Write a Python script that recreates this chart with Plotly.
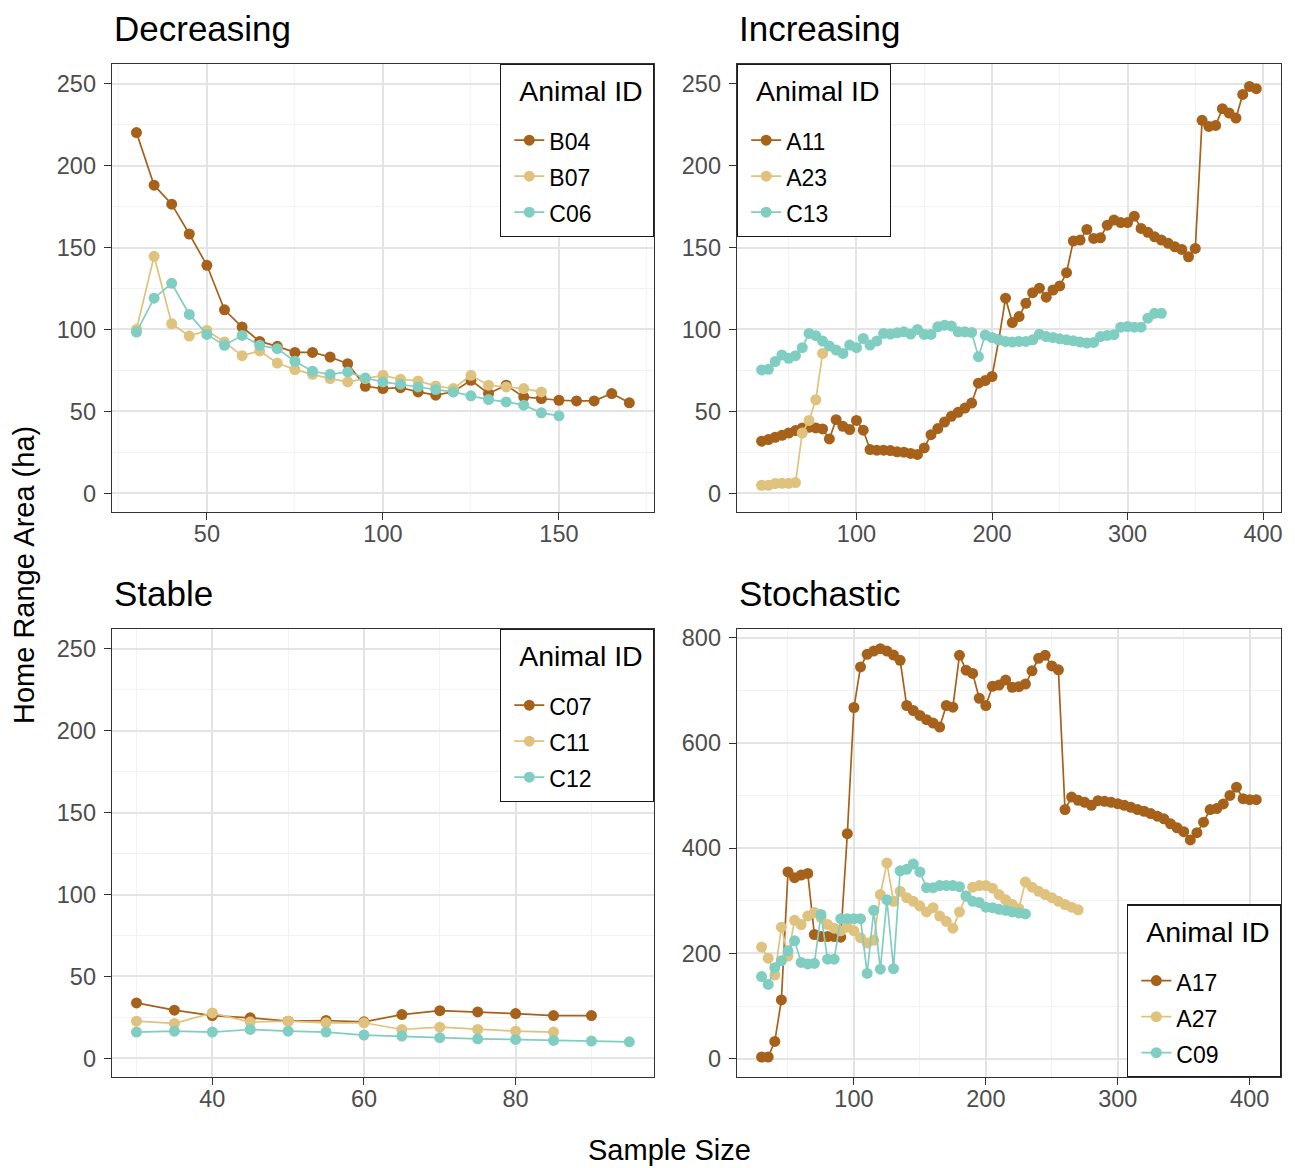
import plotly.graph_objects as go

# ---------------- data ----------------
# Decreasing
b04_n = list(range(30, 175, 5))
b04_area = [220.2, 188.1, 176.5, 158.3, 139.2, 112.0, 101.5, 92.7, 89.7, 86.0, 86.0, 83.2, 79.1, 65.3,
            63.9, 64.5, 61.9, 59.9, 62.0, 69.0, 60.9, 66.0, 58.8, 57.8, 56.8, 56.4, 56.4, 60.9, 55.2]
b07_n = list(range(30, 150, 5))
b07_area = [100.0, 144.7, 103.5, 96.0, 99.4, 92.3, 84.0, 86.9, 79.5, 75.5, 72.6, 70.0, 68.0, 70.0,
            72.0, 69.6, 68.6, 65.5, 63.9, 72.0, 66.0, 64.9, 63.9, 61.9]
c06_n = list(range(30, 155, 5))
c06_area = [98.4, 119.1, 128.2, 109.2, 97.0, 90.3, 96.4, 90.3, 88.3, 80.6, 74.5, 72.6, 74.1, 70.4,
            68.0, 66.6, 64.9, 63.3, 61.9, 59.5, 57.2, 55.8, 53.8, 49.1, 47.3]

# Increasing
a11_n = list(range(30, 400, 5))
a11_area = [31.8, 32.8, 34.2, 35.4, 36.8, 38.3, 39.9, 40.3, 39.9, 39.3, 33.2, 44.9, 40.9, 38.9, 44.5,
            38.5, 26.7, 26.3, 26.3, 26.1, 25.3, 25.1, 24.3, 23.7, 27.7, 35.8, 39.5, 43.5, 47.0, 49.4,
            52.0, 55.1, 67.2, 68.8, 71.3,
            93.7, 119.1, 104.2, 107.9, 116.0, 122.5, 125.2, 119.7, 124.1, 126.6, 134.7, 154.0, 154.6,
            161.1, 155.6, 156.0, 163.7, 166.8, 165.3, 165.3, 169.2, 161.7, 159.3, 156.6, 154.6, 152.6,
            150.5, 148.9, 144.4, 149.5, 227.7, 224.0, 224.6, 234.8, 232.1, 229.1, 243.5, 248.4, 247.0]
a23_n = list(range(30, 80, 5))
a23_area = [4.9, 4.9, 5.9, 6.1, 6.1, 6.5, 36.8, 44.5, 57.1, 85.4]
c13_n = list(range(30, 330, 5))
c13_area = [75.3, 75.7, 80.4, 84.4, 82.4, 84.0, 88.9, 97.6, 96.2, 92.9, 89.9, 87.4, 85.4, 90.5, 88.9,
            94.5, 90.5, 92.9, 97.6, 97.2, 98.0, 98.6, 97.2, 100.0, 97.0, 97.0, 101.6, 102.6, 102.2,
            98.6, 98.6, 98.2, 83.4, 96.6, 95.1,
            93.7, 92.7, 92.3, 92.7, 92.7, 93.7, 97.1, 95.7, 95.1, 94.3, 93.7, 93.1, 92.3, 91.7, 92.1,
            95.7, 96.4, 96.8, 101.4, 101.8, 101.4, 101.4, 106.9, 109.9, 109.9]

# Stable
c07_n = list(range(30, 95, 5))
c07_area = [33.8, 29.4, 26.1, 24.7, 22.7, 23.1, 22.3, 26.7, 29.1, 28.3, 27.3, 26.1, 26.1]
c11_n = list(range(30, 90, 5))
c11_area = [22.7, 21.3, 27.7, 22.1, 22.7, 21.7, 21.7, 17.6, 19.0, 17.6, 16.6, 16.0]
c12_n = list(range(30, 100, 5))
c12_area = [16.0, 16.6, 16.0, 17.6, 16.6, 16.0, 14.2, 13.6, 12.6, 11.9, 11.5, 10.9, 10.5, 10.1]

# Stochastic
a17_n = list(range(30, 410, 5))
a17_area = [3.1, 3.1, 32.8, 111.5, 355, 344, 349, 352, 236, 232, 232, 232, 231,
            427.6, 667.5, 744.7, 768.6, 774.9, 779.3, 774.9, 767.3, 757.3, 671.3, 661.8, 652.4, 644.3,
            638.0, 630.4, 671.3, 668.1, 766.7, 738.5, 732.2, 685.1, 671.3, 707.7, 710.2, 719.6, 705.8,
            707.1, 712.1, 737.2, 761.1, 766.7, 746.6, 739.1, 473.4, 497.3, 491.0, 487.3, 481.6, 490.4,
            489.1, 487.3, 484.7, 481.6, 477.8, 473.4, 470.3, 465.9, 460.9, 455.9, 446.4, 438.9, 431.4,
            415.7, 429.5, 449.6, 473.4, 475.3, 484.1, 500.4, 516.1, 494.2, 492.3, 492.3]
a27_n = list(range(30, 275, 5))
a27_area = [212, 191, 159, 250, 195, 263, 255, 271, 278, 268, 255, 248, 243, 250, 243, 230, 220, 225,
            312, 372, 299, 318, 306, 299, 290, 279, 287, 271, 261, 248, 279, 309, 326, 329, 329, 324,
            312, 302, 293, 285, 336, 326, 318, 312, 306, 299, 293, 288, 283]
c09_n = list(range(30, 235, 5))
c09_area = [156, 141, 173, 186, 205, 224, 183, 180, 181, 274, 189, 189, 266, 266, 266, 266, 162, 282,
            170, 302, 171, 357, 360, 370, 355, 325, 325, 329, 329, 329, 327, 309, 299, 297, 288, 287,
            284, 282, 279, 277, 275]

panel_titles = ["Decreasing", "Increasing", "Stable", "Stochastic"]
x_title = "Sample Size"
y_title = "Home Range Area (ha)"
legend_title = "Animal ID"

# ---------------- styling ----------------
COLS = ["#A6611A", "#DFC27D", "#80CDC1"]
OFF = 8                      # page body margin of the html
FW, FH = 1295 - OFF, 1168 - OFF
FONT = "Liberation Sans, Arial, Helvetica, sans-serif"


def X(p):
    return (p - OFF) / FW


def Y(p):
    return 1 - (p - OFF) / FH


# panel boxes in reference pixels: (left, right, top, bottom)
boxes = {1: (112, 655, 60, 510), 2: (738, 1283, 60, 510),
         3: (112, 655, 627, 1077), 4: (738, 1283, 627, 1077)}

panels = [
    (1, [("B04", b04_n, b04_area), ("B07", b07_n, b07_area), ("C06", c06_n, c06_area)]),
    (2, [("A11", a11_n, a11_area), ("A23", a23_n, a23_area), ("C13", c13_n, c13_area)]),
    (3, [("C07", c07_n, c07_area), ("C11", c11_n, c11_area), ("C12", c12_n, c12_area)]),
    (4, [("A17", a17_n, a17_area), ("A27", a27_n, a27_area), ("C09", c09_n, c09_area)]),
]

xcfg = {
    1: dict(range=[23, 177], tickvals=[50, 100, 150], minor=[25, 75, 125, 175]),
    2: dict(range=[11.75, 413.25], tickvals=[100, 200, 300, 400], minor=[50, 150, 250, 350]),
    3: dict(range=[26.75, 98.25], tickvals=[40, 60, 80], minor=[30, 50, 70, 90]),
    4: dict(range=[11.25, 423.75], tickvals=[100, 200, 300, 400], minor=[50, 150, 250, 350]),
}
ycfg_small = dict(range=[-11.6, 262.2], tickvals=[0, 50, 100, 150, 200, 250],
                  minor=[25, 75, 125, 175, 225])
ycfg = {1: ycfg_small, 2: ycfg_small, 3: ycfg_small,
        4: dict(range=[-35.5, 817], tickvals=[0, 200, 400, 600, 800], minor=[100, 300, 500, 700])}

fig = go.Figure()

for k, series in panels:
    xa = "x" if k == 1 else f"x{k}"
    ya = "y" if k == 1 else f"y{k}"
    lg = "legend" if k == 1 else f"legend{k}"
    for (name, n, area), c in zip(series, COLS):
        fig.add_trace(go.Scatter(
            x=n, y=area, mode="lines+markers",
            name=f"<span style='font-size:23px'>{name}</span>",
            line=dict(color=c, width=1.7),
            marker=dict(color=c, size=11, line=dict(width=0)),
            xaxis=xa, yaxis=ya, legend=lg,
        ))

layout = dict(
    width=FW, height=FH, autosize=False,
    margin=dict(l=0, r=0, t=0, b=0, pad=0),
    paper_bgcolor="white", plot_bgcolor="white",
    font=dict(family=FONT, color="black"),
    showlegend=True,
)


def axis_common(cfg, standoff):
    return dict(
        range=cfg["range"], tickmode="array", tickvals=cfg["tickvals"],
        showgrid=True, gridcolor="#E4E4E4", gridwidth=1.6, zeroline=False,
        showline=True, mirror=True, linecolor="#333333", linewidth=1.3,
        ticks="outside", ticklen=7, tickwidth=1.4, tickcolor="#333333",
        ticklabelstandoff=standoff,
        tickfont=dict(size=23.5, color="#4D4D4D", family=FONT),
        minor=dict(tickmode="array", tickvals=cfg["minor"], showgrid=True,
                   gridcolor="#F2F2F2", gridwidth=0.8, ticks=""),
        fixedrange=True,
    )


for k in range(1, 5):
    l, r, t, b = boxes[k]
    xname = "xaxis" if k == 1 else f"xaxis{k}"
    yname = "yaxis" if k == 1 else f"yaxis{k}"
    xa = axis_common(xcfg[k], -7)
    xa.update(domain=[X(l), X(r)], anchor="y" if k == 1 else f"y{k}")
    ya = axis_common(ycfg[k], 3)
    ya.update(domain=[Y(b), Y(t)], anchor="x" if k == 1 else f"x{k}")
    layout[xname] = xa
    layout[yname] = ya

legend_pos = {
    1: dict(x=X(655), y=Y(60), xanchor="right", yanchor="top"),
    2: dict(x=X(738), y=Y(60), xanchor="left", yanchor="top"),
    3: dict(x=X(655), y=Y(627), xanchor="right", yanchor="top"),
    4: dict(x=X(1283), y=Y(1077), xanchor="right", yanchor="bottom"),
}
for k in range(1, 5):
    lname = "legend" if k == 1 else f"legend{k}"
    lg = dict(
        title=dict(text="<span style='font-size:28.5px;baseline-shift:16px'>&nbsp;&nbsp;"
                        + legend_title + "&nbsp;</span>",
                   font=dict(size=40, family=FONT, color="black")),
        font=dict(size=25.4, family=FONT, color="black"),
        bgcolor="white", bordercolor="#1A1A1A", borderwidth=1.3,
        itemwidth=30, orientation="v", tracegroupgap=0, indentation=8,
        xref="paper", yref="paper",
    )
    lg.update(legend_pos[k])
    layout[lname] = lg

annotations = []
for k, title in zip(range(1, 5), panel_titles):
    l, r, t, b = boxes[k]
    annotations.append(dict(
        text=title, x=X(l), y=Y(t - 35), xref="paper", yref="paper",
        xanchor="left", yanchor="middle", showarrow=False,
        font=dict(size=35, family=FONT, color="black"),
    ))
annotations.append(dict(
    text=x_title, x=X(671), y=Y(1150), xref="paper", yref="paper",
    xanchor="center", yanchor="middle", showarrow=False,
    font=dict(size=29, family=FONT, color="black"),
))
annotations.append(dict(
    text=y_title, x=X(24), y=Y(573), xref="paper", yref="paper",
    xanchor="center", yanchor="middle", showarrow=False, textangle=-90,
    font=dict(size=29, family=FONT, color="black"),
))
layout["annotations"] = annotations

fig.update_layout(**layout)
fig.write_html("out.html")
